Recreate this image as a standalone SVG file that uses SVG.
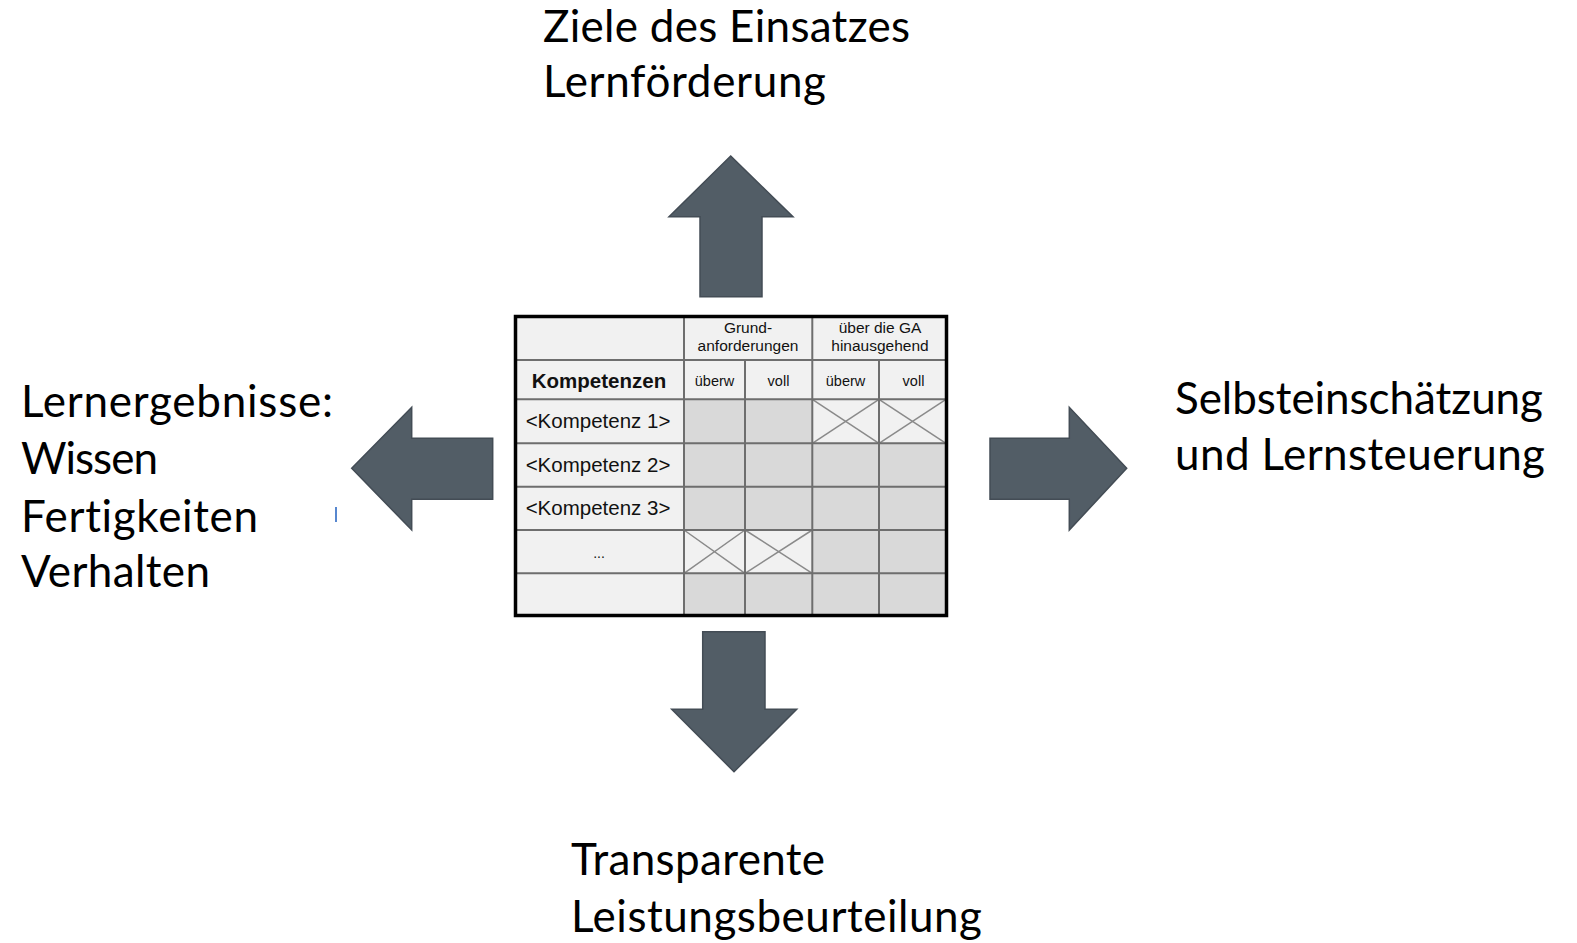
<svg xmlns="http://www.w3.org/2000/svg" width="1577" height="943" viewBox="0 0 1577 943">
  <style>
    .lbl { font-family: Lato, "Open Sans", sans-serif; font-size: 44px; font-weight: 400; font-variant-ligatures: none; fill: #000; }
    .arrow { fill: #525d66; stroke: #434c55; stroke-width: 1.5; stroke-linejoin: miter; }
    .hd { fill: #f1f1f1; }
    .cell { fill: #d9d9d9; }
    .grid { stroke: #6e6e6e; stroke-width: 2; fill: none; }
    .cross { stroke: #8a8a8a; stroke-width: 1.5; }
    .t { font-family: "Liberation Sans", Arial, sans-serif; fill: #111; text-anchor: middle; }
  </style>

  <rect width="1577" height="943" fill="#fff"/>

  <!-- Block arrows pointing away from the table -->
  <g id="connectors">
    <path class="arrow" d="M730.7,156 L793,216.7 L762,216.7 L762,296.7 L700,296.7 L700,216.7 L669,216.7 Z"/>
    <path class="arrow" d="M351.7,468.3 L411.7,407.3 L411.7,438.3 L492.7,438.3 L492.7,499.3 L411.7,499.3 L411.7,530 Z"/>
    <path class="arrow" d="M1126.7,468.3 L1069.3,407.3 L1069.3,438.3 L990,438.3 L990,499.3 L1069.3,499.3 L1069.3,530 Z"/>
    <path class="arrow" d="M734,771.7 L796.7,709.3 L765,709.3 L765,631.7 L702.7,631.7 L702.7,709.3 L671.7,709.3 Z"/>
  </g>

  <!-- Competence grid -->
  <g id="table">
    <rect class="hd" x="515" y="316" width="432" height="300"/>
    <!-- graded cells -->
    <rect class="cell" x="684" y="399.3" width="128.3" height="44"/>
    <rect class="cell" x="684" y="443.3" width="264" height="86.7"/>
    <rect class="cell" x="812.3" y="530" width="135.7" height="43.3"/>
    <rect class="cell" x="684" y="573.3" width="264" height="43.3"/>
    <!-- crossed-out cells -->
    <g class="cross">
      <line x1="812.3" y1="399.3" x2="879" y2="443.3"/>
      <line x1="812.3" y1="443.3" x2="879" y2="399.3"/>
      <line x1="879" y1="399.3" x2="946" y2="443.3"/>
      <line x1="879" y1="443.3" x2="946" y2="399.3"/>
      <line x1="684" y1="530" x2="745" y2="573.3"/>
      <line x1="684" y1="573.3" x2="745" y2="530"/>
      <line x1="745" y1="530" x2="812.3" y2="573.3"/>
      <line x1="745" y1="573.3" x2="812.3" y2="530"/>
    </g>
    <!-- grid lines -->
    <path class="grid" d="M515,360 H948 M515,399.3 H948 M515,443.3 H948 M515,486.7 H948 M515,530 H948 M515,573.3 H948
                          M684,316 V616 M812.3,316 V616 M745,360 V616 M879,360 V616"/>
    <rect x="515.5" y="316.5" width="431" height="299" fill="none" stroke="#000" stroke-width="3.5"/>

    <text class="t" font-size="15.5" x="748" y="333">Grund-</text>
    <text class="t" font-size="15.5" x="748" y="351">anforderungen</text>
    <text class="t" font-size="15.5" x="880" y="333">über die GA</text>
    <text class="t" font-size="15.5" x="880" y="351">hinausgehend</text>

    <text class="t" font-size="20.5" font-weight="bold" x="599" y="388">Kompetenzen</text>
    <text class="t" font-size="14.5" x="714.5" y="386">überw</text>
    <text class="t" font-size="14.5" x="778.5" y="386">voll</text>
    <text class="t" font-size="14.5" x="845.5" y="386">überw</text>
    <text class="t" font-size="14.5" x="913.5" y="386">voll</text>

    <text class="t" font-size="20.5" x="598" y="428">&lt;Kompetenz 1&gt;</text>
    <text class="t" font-size="20.5" x="598" y="472">&lt;Kompetenz 2&gt;</text>
    <text class="t" font-size="20.5" x="598" y="515">&lt;Kompetenz 3&gt;</text>
    <text class="t" font-size="14" x="599" y="558">...</text>
  </g>

  <g id="top-label">
    <text class="lbl" x="543" y="42" textLength="367">Ziele des Einsatzes</text>
    <text class="lbl" x="543" y="97" textLength="283">Lernförderung</text>
  </g>

  <g id="left-label">
    <text class="lbl" x="21" y="417" textLength="312">Lernergebnisse:</text>
    <text class="lbl" x="21" y="473.5" textLength="137">Wissen</text>
    <text class="lbl" x="21" y="531.5" textLength="237">Fertigkeiten</text>
    <text class="lbl" x="21" y="587" textLength="189">Verhalten</text>
    <line x1="336" y1="507" x2="336" y2="522" stroke="#1f5fbf" stroke-width="1.5"/>
  </g>

  <g id="right-label">
    <text class="lbl" x="1175" y="413.5" textLength="368">Selbsteinschätzung</text>
    <text class="lbl" x="1175" y="469.5" textLength="370">und Lernsteuerung</text>
  </g>

  <g id="bottom-label">
    <text class="lbl" x="571" y="875" textLength="254">Transparente</text>
    <text class="lbl" x="571" y="931.5" textLength="411">Leistungsbeurteilung</text>
  </g>
</svg>
